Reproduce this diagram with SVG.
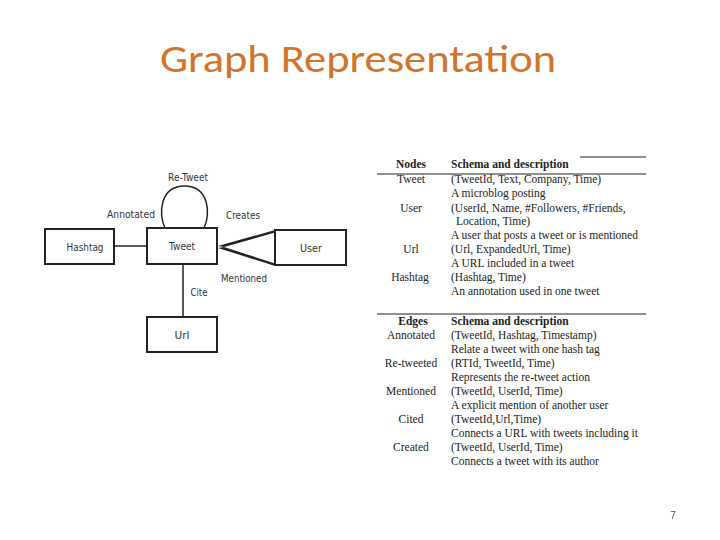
<svg xmlns="http://www.w3.org/2000/svg" width="720" height="540" viewBox="0 0 720 540">
<style>
.box{fill:#fff;stroke:#222;stroke-width:2}
.lbl{font-family:"DejaVu Sans",sans-serif;font-size:11px;fill:#333}
.ln{stroke:#222;stroke-width:1.5;fill:none}
.tb{font-family:"Liberation Serif",serif;font-size:11.5px;fill:#222}
.th{font-family:"Liberation Serif",serif;font-size:11.5px;fill:#222;font-weight:bold}
.rule{stroke:#222;stroke-width:1.2}
</style>
<rect width="720" height="540" fill="#fff"/>
<text x="358" y="72" font-family="Carlito,'Liberation Sans',sans-serif" font-size="38" fill="#d2742a" text-anchor="middle" textLength="396" lengthAdjust="spacingAndGlyphs">Graph Representation</text>

<g id="connectors">
<path class="ln" d="M165,228 C158,214 160,186 184.5,186 C209,186 211,214 204,228"/>
<line class="ln" x1="114" y1="246" x2="147" y2="246"/>
<line class="ln" x1="183" y1="264" x2="183" y2="317"/>
<path d="M218,246 L275,230 L275,232.5 L224,247 Z" fill="#222"/>
<path d="M218,248 L275,266 L275,263.5 L224,247 Z" fill="#222"/>
<text class="lbl" x="188" y="181" text-anchor="middle" textLength="40" lengthAdjust="spacingAndGlyphs">Re-Tweet</text>
<text class="lbl" x="131" y="218" text-anchor="middle" textLength="48" lengthAdjust="spacingAndGlyphs">Annotated</text>
<text class="lbl" x="243" y="219" text-anchor="middle" textLength="34" lengthAdjust="spacingAndGlyphs">Creates</text>
<text class="lbl" x="244" y="282" text-anchor="middle" textLength="46" lengthAdjust="spacingAndGlyphs">Mentioned</text>
<text class="lbl" x="199" y="296" text-anchor="middle" textLength="17" lengthAdjust="spacingAndGlyphs">Cite</text>
</g>

<g id="node-hashtag"><rect class="box" x="45" y="229" width="69" height="35"/><text class="lbl" x="85" y="251" text-anchor="middle" textLength="37" lengthAdjust="spacingAndGlyphs">Hashtag</text></g>
<g id="node-tweet"><rect class="box" x="147" y="228" width="70" height="36"/><text class="lbl" x="182" y="250" text-anchor="middle" textLength="26" lengthAdjust="spacingAndGlyphs">Tweet</text></g>
<g id="node-user"><rect class="box" x="275" y="230" width="71" height="35"/><text class="lbl" x="311" y="252" text-anchor="middle" textLength="22" lengthAdjust="spacingAndGlyphs">User</text></g>
<g id="node-url"><rect class="box" x="147" y="317" width="70" height="35"/><text class="lbl" x="182" y="339" text-anchor="middle" textLength="15" lengthAdjust="spacingAndGlyphs">Url</text></g>

<g id="table">
<line class="rule" x1="580" y1="157" x2="646" y2="157"/>
<line class="rule" x1="377" y1="174" x2="646" y2="174"/>
<line class="rule" x1="377" y1="314" x2="646" y2="314"/>
<text class="th" x="411" y="168" text-anchor="middle">Nodes</text>
<text class="th" x="451" y="168">Schema and description</text>
<text class="tb" x="411" y="183" text-anchor="middle">Tweet</text>
<text class="tb" x="451" y="183">(TweetId, Text, Company, Time)</text>
<text class="tb" x="451" y="197">A microblog posting</text>
<text class="tb" x="411" y="212" text-anchor="middle">User</text>
<text class="tb" x="451" y="212">(UserId, Name, #Followers, #Friends,</text>
<text class="tb" x="456" y="225">Location, Time)</text>
<text class="tb" x="451" y="239" textLength="187" lengthAdjust="spacingAndGlyphs">A user that posts a tweet or is mentioned</text>
<text class="tb" x="411" y="253" text-anchor="middle">Url</text>
<text class="tb" x="451" y="253">(Url, ExpandedUrl, Time)</text>
<text class="tb" x="451" y="267">A URL included in a tweet</text>
<text class="tb" x="410" y="281" text-anchor="middle">Hashtag</text>
<text class="tb" x="451" y="281">(Hashtag, Time)</text>
<text class="tb" x="451" y="295">An annotation used in one tweet</text>

<text class="th" x="413" y="325" text-anchor="middle">Edges</text>
<text class="th" x="451" y="325">Schema and description</text>
<text class="tb" x="411" y="339" text-anchor="middle">Annotated</text>
<text class="tb" x="451" y="339">(TweetId, Hashtag, Timestamp)</text>
<text class="tb" x="451" y="353">Relate a tweet with one hash tag</text>
<text class="tb" x="411" y="367" text-anchor="middle">Re-tweeted</text>
<text class="tb" x="451" y="367">(RTId, TweetId, Time)</text>
<text class="tb" x="451" y="381">Represents the re-tweet action</text>
<text class="tb" x="411" y="395" text-anchor="middle">Mentioned</text>
<text class="tb" x="451" y="395">(TweetId, UserId, Time)</text>
<text class="tb" x="451" y="409">A explicit mention of another user</text>
<text class="tb" x="411" y="423" text-anchor="middle">Cited</text>
<text class="tb" x="451" y="423">(TweetId,Url,Time)</text>
<text class="tb" x="451" y="437" textLength="187" lengthAdjust="spacingAndGlyphs">Connects a URL with tweets including it</text>
<text class="tb" x="411" y="451" text-anchor="middle">Created</text>
<text class="tb" x="451" y="451">(TweetId, UserId, Time)</text>
<text class="tb" x="451" y="465">Connects a tweet with its author</text>
</g>
<text x="673" y="519" font-family="'Liberation Sans',sans-serif" font-size="10" fill="#555" text-anchor="middle">7</text>
</svg>
